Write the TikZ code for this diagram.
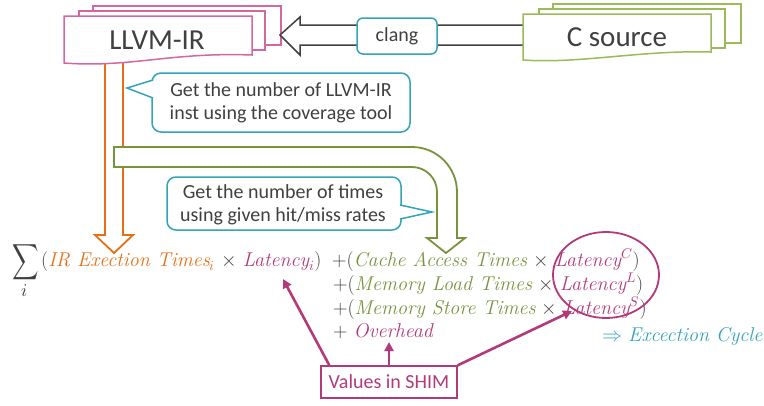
\documentclass[tikz,border=0pt]{standalone}
\usepackage{fontspec}
\usepackage{unicode-math}
\setmathfont{Latin Modern Math}
\newfontfamily\calfont{Carlito}
\usetikzlibrary{shapes.geometric,arrows.meta}
\definecolor{cpink}{RGB}{211,104,160}
\definecolor{cgreen}{RGB}{155,187,89}
\definecolor{colive}{RGB}{119,147,60}
\definecolor{corng}{RGB}{230,110,20}
\definecolor{cteal}{RGB}{52,163,180}
\definecolor{cpurp}{RGB}{178,58,122}
\definecolor{dgray}{RGB}{64,64,64}
\begin{document}
\begin{tikzpicture}[x=1pt,y=-1pt,
  docpink/.style={draw=cpink,fill=white,line width=1.5},
  docgreen/.style={draw=cgreen,fill=white,line width=1.5},
  bigtxt/.style={font=\calfont\fontsize{29}{34}\selectfont,text=dgray,inner sep=0},
  calltxt/.style={font=\calfont\fontsize{20}{23}\selectfont,text=dgray,align=center,inner sep=0},
  callbox/.style={draw=cteal,fill=white,line width=1.5},
  fml/.style={font=\fontsize{20}{23}\selectfont,text=dgray,inner sep=0,anchor=base west},
  parrow/.style={draw=cpurp,line width=2.6,-{Triangle[length=9,width=9]}},
  blockarrow/.style={line width=1.8,fill=white,line join=miter}
]
\useasboundingbox (0,0) rectangle (764,405);

% orange block arrow (drawn first, covered at top by LLVM-IR doc)
\draw[blockarrow,draw=corng] (105,58) -- (105,235) -- (95,235) -- (114,253) -- (133,235) -- (123,235) -- (123,58);

% LLVM-IR document stack
\draw[docpink] (93,6) rectangle (281,45);
\draw[docpink] (79,11) rectangle (265,50);
\draw[docpink] (64,16) -- (252,16) -- (252,55) .. controls (170,52) and (130,68) .. (64,63) -- cycle;
\node[bigtxt] (llvm) at (157,40) {LLVM-IR};

% big hollow arrow from C source to LLVM-IR
\draw[line width=1.5,draw=dgray,fill=white,line join=miter] (280,35) -- (300,17) -- (300,25) -- (530,25) -- (530,45) -- (300,45) -- (300,55) -- cycle;

% C source document stack
\draw[docgreen] (553,4) rectangle (741,43);
\draw[docgreen] (539,9) rectangle (725,48);
\draw[docgreen] (523,14) -- (711,14) -- (711,52) .. controls (640,50) and (580,64) .. (523,60) -- cycle;
\node[bigtxt] (csrc) at (617,37) {C source};

% clang label
\node[draw=cteal,fill=white,line width=1.5,rounded corners=6,minimum width=80,minimum height=36,
      font=\calfont\fontsize{20}{24}\selectfont,text=dgray] (clang) at (397,36) {clang};

% callout 1
\draw[callbox,rounded corners=9] (152,73) rectangle (410,132);
\draw[callbox] (153,80) -- (127,88) -- (153,98);
\node[calltxt] (c1) at (281,103) {Get the number of LLVM-IR\\inst using the coverage tool};

% green bent block arrow
\draw[blockarrow,draw=colive] (114,147) [rounded corners=45] -- (457,147) [sharp corners] -- (457,238) -- (465,238)
   -- (446,253) -- (427,238) -- (437,238) [rounded corners=25] -- (437,167) [sharp corners] -- (114,167) -- cycle;

% callout 2
\draw[callbox,rounded corners=9] (167,177) rectangle (401,230);
\draw[callbox] (400,205) -- (432,212) -- (400,219);
\node[calltxt] (c2) at (283,205) {Get the number of times\\using given hit/miss rates};

% formula
\node[inner sep=0,text=dgray,font=\fontsize{20}{24}\selectfont] (sig) at (26,262) {\scalebox{0.92}[1.25]{$\displaystyle\sum$}};
\node[inner sep=0,text=dgray,font=\fontsize{18}{22}\selectfont] (sigi) at (25,291) {$i$};
\node[fml] (f1) at (41,266) {({\itshape\color{corng}IR Exection Times}$_{\color{corng}i}$ $\times$ {\itshape\color{cpurp}Latency}$_{\color{cpurp}i}$)};
\node[fml] (f2) at (332,266) {+({\itshape\color{colive}Cache Access Times} $\times$ {\itshape\color{cpurp}Latency}$^{\color{cpurp}C}$)};
\node[fml] (f3) at (333,290) {+({\itshape\color{colive}Memory Load Times} $\times$ {\itshape\color{cpurp}Latency}$^{\color{cpurp}L}$)};
\node[fml] (f4) at (333,314) {+({\itshape\color{colive}Memory Store Times} $\times$ {\itshape\color{cpurp}Latency}$^{\color{cpurp}S}$)};
\node[fml] (f5) at (333,337) {+ {\itshape\color{cpurp}Overhead}};
\node[fml,text=cteal] (cyc) at (602,341) {$\Rightarrow$ {\itshape Excection Cycle}};

% circle
\node[draw=cpurp,line width=1.8,ellipse,minimum width=106,minimum height=86] (circ) at (606,275) {};

% Values in SHIM
\node[draw=cpurp,line width=1.3,minimum width=136,minimum height=32,inner sep=0,
      font=\calfont\fontsize{20}{24}\selectfont,text=cpurp] (shim) at (389,382) {Values in SHIM};
\coordinate (t1) at (283,279);
\coordinate (t2) at (389,342);
\coordinate (t3) at (572,311);
\draw[parrow] ([xshift=9]shim.north west) -- (t1);
\draw[parrow] (shim.north) -- (t2);
\draw[parrow] (shim.north east) -- (t3);
\end{tikzpicture}
\end{document}
